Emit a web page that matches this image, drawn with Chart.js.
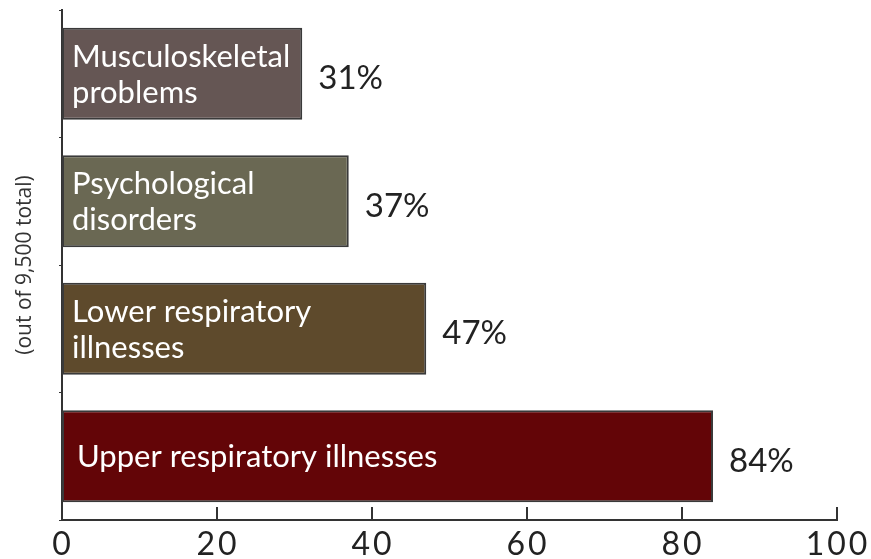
<!DOCTYPE html>
<html>
<head>
<meta charset="utf-8">
<script src="https://cdn.jsdelivr.net/npm/chart.js@4/dist/chart.umd.min.js"></script>
<style>
  html, body { margin: 0; padding: 0; background: #fff; }
  #wrap { width: 871px; height: 559px; }
</style>
</head>
<body>
<div id="wrap"><canvas id="c" width="871" height="559"></canvas></div>
<script>
// data
const categories = [
  ['Musculoskeletal', 'problems'],
  ['Psychological', 'disorders'],
  ['Lower respiratory', 'illnesses'],
  ['Upper respiratory illnesses']
];
const percents = [31, 37, 47, 84];
const barColors = ['#655654', '#6a6853', '#5e4a2c', '#630507'];
const xTicks = [0, 20, 40, 60, 80, 100];
const yTitle = '(out of 9,500 total)';

// writes the names inside bars, the % after them, and the x axis ticks
const barText = {
  id: 'barText',
  afterDatasetsDraw(chart) {
    const ctx = chart.ctx;
    const meta = chart.getDatasetMeta(0);
    ctx.save();
    ctx.textBaseline = 'middle';
    ctx.textAlign = 'left';
    meta.data.forEach((bar, i) => {
      const lines = categories[i];
      const lh = 36;
      const y0 = bar.y - (lines.length - 1) * lh / 2;
      ctx.font = '31px Lato';
      ctx.fillStyle = '#ffffff';
      const pad = lines.length == 1 ? 15 : 10;
      lines.forEach((t, k) => ctx.fillText(t, bar.base + pad, y0 + k * lh + 1));
      ctx.font = '33px Lato';
      ctx.fillStyle = '#222222';
      ctx.fillText(percents[i] + '%', bar.x + 16, bar.y + 5);
    });

    const xs = chart.scales.x;
    const bottom = chart.chartArea.bottom;
    ctx.strokeStyle = '#333333';
    ctx.lineWidth = 2;
    xTicks.forEach(v => {
      const px = xs.getPixelForValue(v);
      if (v > 0) {
        ctx.beginPath();
        ctx.moveTo(px, bottom - 13);
        ctx.lineTo(px, bottom);
        ctx.stroke();
      }
      ctx.font = '32px Lato';
      ctx.letterSpacing = '3px';
      ctx.fillStyle = '#222222';
      ctx.textAlign = 'center';
      ctx.fillText(String(v), px + 1, bottom + 25);
    });
    ctx.restore();
  }
};

new Chart(document.getElementById('c').getContext('2d'), {
  type: 'bar',
  data: {
    labels: categories.map(c => c.join(' ')),
    datasets: [{
      data: percents,
      backgroundColor: barColors,
      borderColor: '#3a3a3a',
      borderWidth: 2,
      borderSkipped: false,
      categoryPercentage: 0.8,
      barPercentage: 0.9
    }]
  },
  options: {
    indexAxis: 'y',
    responsive: false,
    animation: false,
    layout: { padding: { top: 10, right: 34, bottom: 0, left: 0 } },
    plugins: { legend: { display: false }, tooltip: { enabled: false } },
    scales: {
      x: {
        min: 0, max: 100,
        ticks: { display: false, stepSize: 20 },
        grid: { display: false },
        border: { display: true, color: '#333333', width: 2 },
        afterFit(scale) { scale.height = 39; }
      },
      y: {
        ticks: { display: false },
        grid: { display: true, drawOnChartArea: false, drawTicks: true, tickLength: 3, color: '#333333' },
        border: { display: true, color: '#333333', width: 2 },
        title: {
          display: true,
          text: yTitle,
          color: '#333333',
          font: { family: 'Open Sans', size: 21 },
          padding: { top: 12, bottom: 0 }
        },
        afterFit(scale) { scale.width = 62; }
      }
    }
  },
  plugins: [barText]
});
</script>
</body>
</html>
